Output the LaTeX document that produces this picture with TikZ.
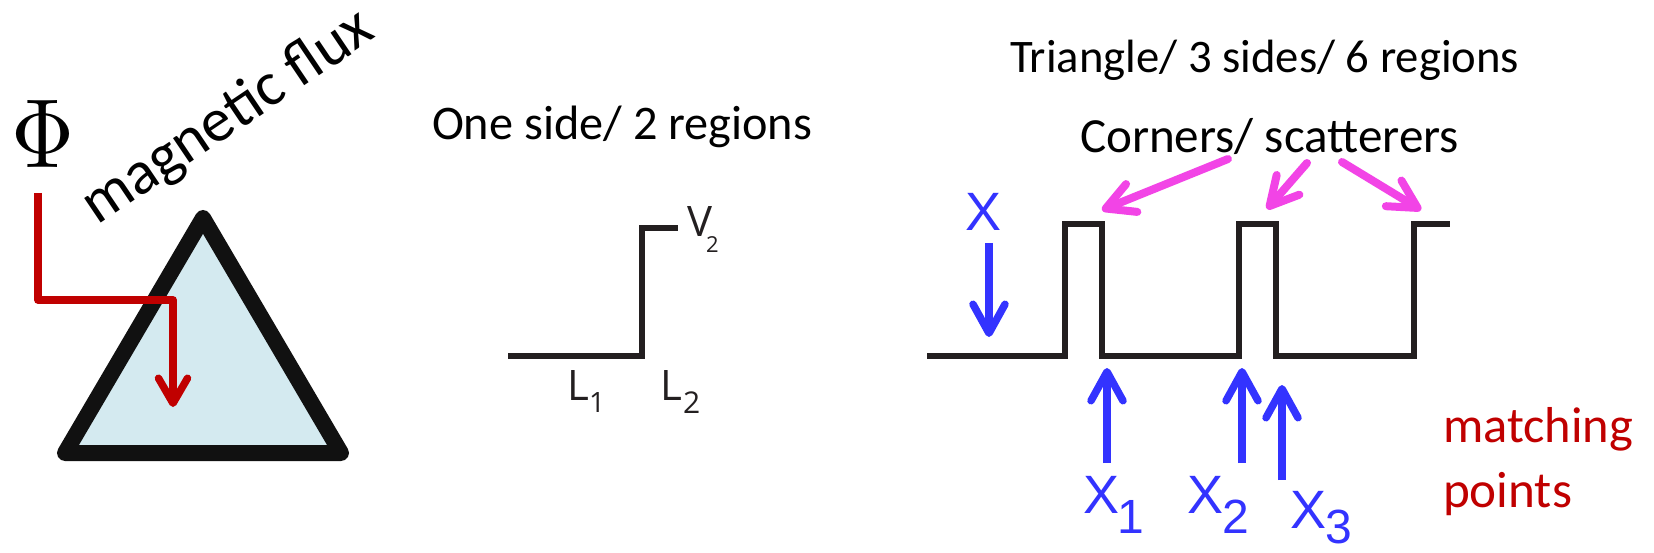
\documentclass[tikz,border=0pt]{standalone}
\usepackage{fontspec}
\usepackage{graphicx}
\setmainfont{Carlito}
\newfontfamily\arialfont{Liberation Sans}
\newfontfamily\thinfont{Open Sans}
\usetikzlibrary{arrows.meta}

\definecolor{triblue}{RGB}{212,234,240}
\definecolor{triedge}{RGB}{17,17,17}
\definecolor{fluxred}{RGB}{192,0,0}
\definecolor{wire}{RGB}{35,31,32}
\definecolor{ptblue}{RGB}{51,51,255}
\definecolor{pink}{RGB}{242,68,230}

\newcommand{\fitw}[2]{\resizebox{#1}{!}{#2}}
\newcommand{\fs}[1]{\fontsize{#1}{#1}\selectfont}

\begin{document}
\begin{tikzpicture}[x=1pt,y=-1pt,
  every node/.style={inner sep=0pt,outer sep=0pt},
  tri/.style={draw=triedge,fill=triblue,line width=16pt,line join=round},
  fluxarrow/.style={draw=fluxred,line width=7.5pt,line join=round,
    -{Straight Barb[length=25pt,width=29pt,round]}},
  potential/.style={draw=wire,line width=5.5pt,line join=miter},
  bluearrow/.style={draw=ptblue,line width=7.5pt,
    -{Straight Barb[length=29pt,width=32pt,round]}},
  pinkarrow/.style={draw=pink,line width=8pt,line cap=round,
    -{Straight Barb[length=28pt,width=30pt,round]}},
  title/.style={anchor=base west,text=black},
  xlab/.style={anchor=base west,text=ptblue,font=\arialfont\fs{54}},
  steplab/.style={anchor=base west,text=wire,font=\thinfont\fs{42}}
]
\useasboundingbox[fill=white] (0,0) rectangle (1654,553);

% ---- left panel: triangle threaded by a flux line ----
\draw[tri] (203,218) -- (65,453) -- (341,453) -- cycle;

\node (phi) at (43.5,133.5) {\resizebox{63pt}{67pt}{$\Phi$}};
\node[anchor=base west,rotate=34] (flux) at (97,226)
  {\fitw{338pt}{magnetic flux}};

\coordinate (fluxstart) at (38,193);
\coordinate (fluxin) at (173,407);
\draw[fluxarrow] (fluxstart) |- (173,300) -- (fluxin);

% ---- middle panel: single step ----
\node[title] (one) at (432,140) {\fitw{380pt}{One side/ 2 regions}};
\draw[potential] (508,356) -- (642,356) -- (642,228) -- (678,228);
\node[steplab] (v) at (687,237) {V};
\node[steplab,font=\thinfont\fs{22}] (v2) at (706,253) {2};
\node[steplab] (l1) at (567,400) {L};
\node[steplab,font=\thinfont\fs{28}] (l1s) at (589,412) {1};
\node[steplab] (l2) at (660,400) {L};
\node[steplab,font=\thinfont\fs{30}] (l2s) at (683,413) {2};

% ---- right panel: three barriers ----
\node[title] (tri3) at (1010,73) {\fitw{509pt}{Triangle/ 3 sides/ 6 regions}};
\node[title] (corn) at (1080,153) {\fitw{379pt}{Corners/ scatterers}};

\draw[potential] (927,356) -- (1065,356) -- (1065,224) -- (1102,224)
  -- (1102,356) -- (1239,356) -- (1239,224) -- (1276,224)
  -- (1276,356) -- (1414,356) -- (1414,224) -- (1450,224);

% arrows from the caption to the corners
\coordinate (c1) at (1228,159);
\coordinate (c2) at (1307,163);
\coordinate (c3) at (1342,162);
\coordinate (k1) at (1102,210);
\coordinate (k2) at (1267,209);
\coordinate (k3) at (1421,210);
\draw[pinkarrow] (c1) -- (k1);
\draw[pinkarrow] (c2) -- (k2);
\draw[pinkarrow] (c3) -- (k3);

% coordinate X and matching points
\node[xlab] (X) at (965,231) {X};
\coordinate (xa) at (989,243);
\coordinate (xb) at (989,337);
\draw[bluearrow] (xa) -- (xb);

\coordinate (m1a) at (1107,463);
\coordinate (m1b) at (1107,368);
\coordinate (m2a) at (1242,463);
\coordinate (m2b) at (1242,368);
\coordinate (m3a) at (1282,480);
\coordinate (m3b) at (1282,385);
\draw[bluearrow] (m1a) -- (m1b);
\draw[bluearrow] (m2a) -- (m2b);
\draw[bluearrow] (m3a) -- (m3b);

\node[xlab] (x1) at (1083,513) {X\kern-2pt\lower20pt\hbox{\fs{48}1}};
\node[xlab] (x2) at (1187,513) {X\kern-1pt\lower20pt\hbox{\fs{48}2}};
\node[xlab] (x3) at (1290,528) {X\kern-1pt\lower15pt\hbox{\fs{48}3}};

\node[anchor=base west,text=fluxred] (match) at (1443,442)
  {\fitw{190pt}{matching}};
\node[anchor=base west,text=fluxred] (points) at (1443,507)
  {\fitw{129pt}{points}};
\end{tikzpicture}
\end{document}
